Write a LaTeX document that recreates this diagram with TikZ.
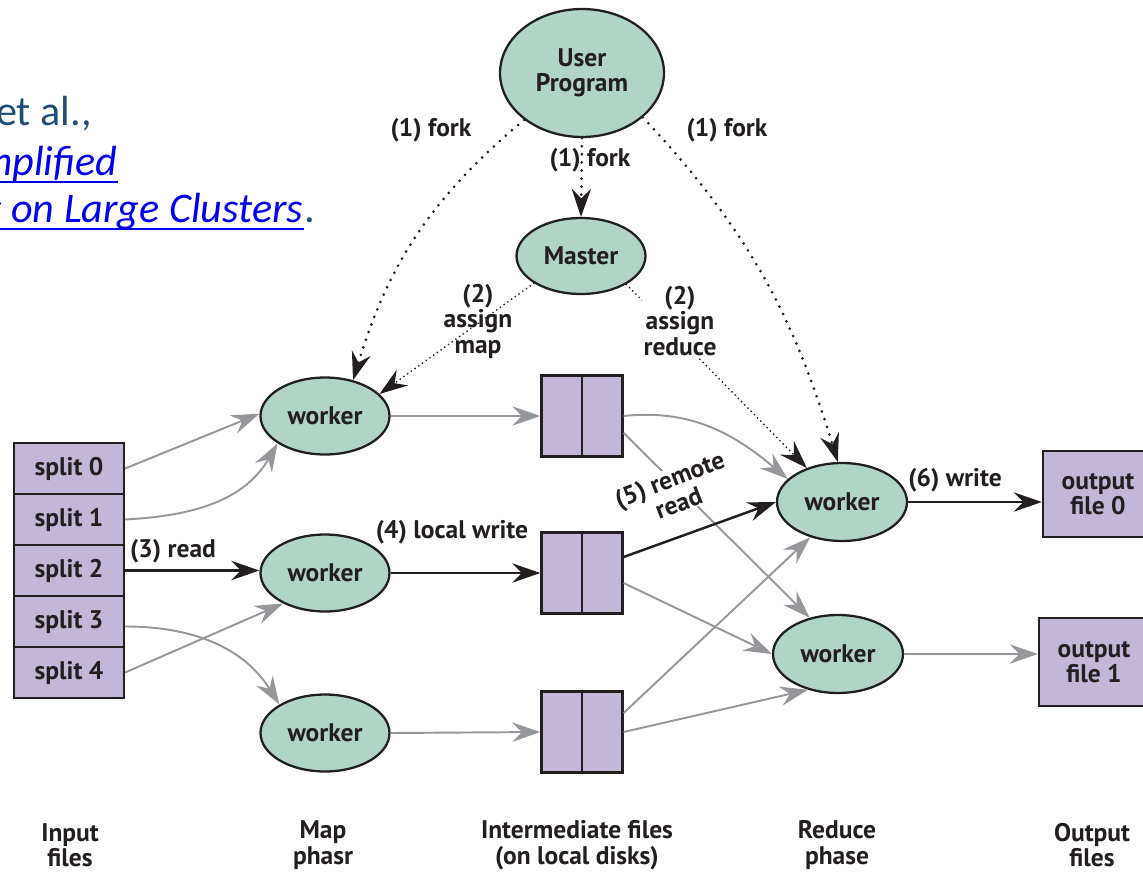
\documentclass[tikz,border=0pt]{standalone}
\usepackage{fontspec}
\setmainfont{PT Sans}
\newfontfamily\citefont{Carlito}
\usetikzlibrary{arrows.meta,shapes.geometric,calc}

\definecolor{nodegreen}{RGB}{176,212,197}
\definecolor{filepurple}{RGB}{195,183,216}
\definecolor{flowgray}{RGB}{150,151,154}
\definecolor{ink}{RGB}{35,31,32}
\definecolor{citeblue}{RGB}{31,78,121}
\definecolor{linkblue}{RGB}{0,0,238}

\begin{document}
\begin{tikzpicture}[x=0.02cm, y=-0.02cm,
  every node/.style={font=\fontsize{14.5}{14.5}\selectfont\bfseries, text=ink},
  proc/.style={ellipse, draw=ink, fill=nodegreen, line width=1.3pt, inner sep=0pt},
  filebox/.style={rectangle, draw=ink, fill=filepurple, line width=1.3pt, inner sep=0pt, align=center},
  splitbox/.style={filebox, minimum width=2.2cm, minimum height=1.02cm},
  diskbox/.style={filebox, minimum width=1.62cm, minimum height=1.62cm},
  tiphead/.style={-{Stealth[length=16pt,width=11pt,inset=5.5pt]}},
  grayflow/.style={tiphead, draw=flowgray, line width=1.1pt},
  blackflow/.style={tiphead, draw=ink, line width=1.4pt},
  forkline/.style={tiphead, draw=ink, line width=1.7pt, line cap=round, dash pattern=on 0pt off 4.6pt},
  assignline/.style={tiphead, draw=ink, line width=1.1pt, line cap=round, dash pattern=on 0pt off 2.6pt},
  steplabel/.style={align=center, inner sep=1pt},
  phaselabel/.style={align=center, inner sep=0pt},
  citetext/.style={inner sep=0pt, font=\citefont\fontsize{24}{24}\selectfont},
]
\useasboundingbox (0,0) rectangle (1143,872);

% citation, running in from the left edge
\begin{scope}
  \clip (0,0) rectangle (1143,872);
  \node[citetext, anchor=base east, text=citeblue] (cite1) at (92,125) {et al.,};
  \node[citetext, anchor=base east, text=linkblue, font=\citefont\itshape\fontsize{24}{24}\selectfont] (cite2) at (118,175) {Simplified};
  \node[citetext, anchor=base east, text=citeblue] (cite3dot) at (315,222) {.};
  \node[citetext, anchor=base east, text=linkblue, font=\citefont\itshape\fontsize{24}{24}\selectfont] (cite3) at (cite3dot.base west) {Processing on Large Clusters};
  \draw[linkblue, line width=1.1pt] ($(cite2.base west)+(0,7)$) -- ($(cite2.base east)+(0,7)$);
  \draw[linkblue, line width=1.1pt] ($(cite3.base west)+(0,7)$) -- ($(cite3.base east)+(0,7)$);
\end{scope}

% processes
\node[proc, minimum width=3.28cm, minimum height=2.56cm, align=center] (up) at (582,73) {User\\Program};
\node[proc, minimum width=2.58cm, minimum height=1.52cm] (m) at (581,256) {Master};
\node[proc, minimum width=2.58cm, minimum height=1.54cm] (w1) at (325,416) {worker};
\node[proc, minimum width=2.58cm, minimum height=1.54cm] (w2) at (325,573) {worker};
\node[proc, minimum width=2.58cm, minimum height=1.54cm] (w3) at (325,733) {worker};
\node[proc, minimum width=2.6cm, minimum height=1.56cm] (r1) at (842,502) {worker};
\node[proc, minimum width=2.6cm, minimum height=1.56cm] (r2) at (838,654) {worker};

% input splits
\node[splitbox] (s0) at (69,468.5) {split 0};
\node[splitbox] (s1) at (69,519.5) {split 1};
\node[splitbox] (s2) at (69,570.5) {split 2};
\node[splitbox] (s3) at (69,621.5) {split 3};
\node[splitbox] (s4) at (69,672.5) {split 4};

% intermediate files, two partitions each
\node[diskbox] (im1) at (582,416) {};
\node[diskbox] (im2) at (582,573) {};
\node[diskbox] (im3) at (582,732) {};
\foreach \f in {im1,im2,im3}
  \draw[ink, line width=1.3pt] (\f.north) -- (\f.south);

% output files
\node[filebox, minimum width=2.2cm, minimum height=1.72cm] (o0) at (1098,494) {output\\file 0};
\node[filebox, minimum width=2.2cm, minimum height=1.76cm] (o1) at (1094,662) {output\\file 1};

% fork and assignment
\draw[forkline] (up.219) to[out=220,in=73] (w1.52);
\draw[forkline] (up.south) -- (m.north);
\draw[forkline] (up.324) to[out=313,in=107] (r1.96);
\draw[assignline] (m.210) -- (w1.22);
\draw[assignline] (m.328) -- (r1.136);

% map side
\draw[grayflow] (s0.east) -- (w1.178);
\draw[grayflow] (s1.east) to[out=3,in=240] (w1.210);
\draw[blackflow] (s2.east) -- (s2.east -| w2.west);
\draw[grayflow] ($(s3.east)+(0,5)$) to[out=0,in=122] (w3.148);
\draw[grayflow] (s4.east) -- (w2.216);
\draw[grayflow] (w1.east) -- (im1.west);
\draw[blackflow] (w2.east) -- (im2.west);
\draw[grayflow] (w3.east) -- (im3.west);

% reduce side
\draw[grayflow] (im1.east) to[out=6,in=140] (r1.157);
\draw[grayflow] ($(im1.east)+(0,17)$) -- (r2.128);
\draw[blackflow] ($(im2.east)+(0,-16)$) -- (r1.180);
\draw[grayflow] ($(im2.east)+(0,10)$) -- (r2.west);
\draw[grayflow] ($(im3.east)+(0,-19)$) -- (r1.228);
\draw[grayflow] (im3.east) -- (r2.230);
\draw[blackflow] (r1.east) -- (r1.east -| o0.west);
\draw[grayflow] (r2.east) -- (r2.east -| o1.west);

% step labels
\node[steplabel] (lfork1) at (431,130) {(1) fork};
\node[steplabel] (lfork2) at (590,160) {(1) fork};
\node[steplabel] (lfork3) at (727,130) {(1) fork};
\node[steplabel] (lmap) at (478,321) {(2)\\assign\\map};
\node[steplabel, fill=white] (lreduce) at (680,321) {(2)\\assign\\reduce};
\node[steplabel] (lread) at (173,551) {(3) read};
\node[steplabel] (lwrite) at (452,532) {(4) local write};
\node[steplabel, fill=white, inner sep=0.5pt, rotate=21] (lremote) at (674,491) {(5) remote\\read};
\node[steplabel] (lout) at (955,480) {(6) write};

% phase captions
\node[phaselabel] (pin) at (70,845) {Input\\files};
\node[phaselabel] (pmap) at (323,845) {Map\\phasr};
\node[phaselabel] (pmid) at (577,845) {Intermediate files\\(on local disks)};
\node[phaselabel] (pred) at (837,845) {Reduce\\phase};
\node[phaselabel] (pout) at (1092,845) {Output\\files};
\end{tikzpicture}
\end{document}
